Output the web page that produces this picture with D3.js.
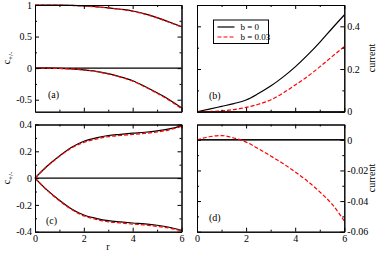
<!DOCTYPE html>
<html lang="en">
  <head>
    <meta charset="utf-8"/>
    <title>c and current vs r</title>
    <script src="https://cdn.jsdelivr.net/npm/d3@7"></script>
    <style>
      body { margin: 0; background: #fff; }
      text { font-family: "Liberation Serif", "DejaVu Serif", serif; fill: #000; }
      .axis path { stroke: #000; }
      .axis line { stroke: #000; }
    </style>
  </head>
  <body>
    <div id="chart"></div>
    <script>
     // radial grid shared by all curves
     const r = [0, 0.5, 1, 1.5, 2, 2.5, 3, 3.5, 4, 4.5, 5, 5.5, 6];

     // panel (a): c+/- amplitudes
     const aUp0   = [1, 1, 0.998, 0.993, 0.985, 0.972, 0.955, 0.933, 0.905, 0.86, 0.8, 0.73, 0.658];
     const aUp3   = [1, 1, 0.998, 0.993, 0.984, 0.971, 0.953, 0.93, 0.9, 0.855, 0.795, 0.725, 0.652];
     const aLow0  = [0, -0.001, -0.004, -0.012, -0.027, -0.05, -0.088, -0.138, -0.2, -0.29, -0.39, -0.5, -0.628];
     const aLow3  = [0, -0.001, -0.005, -0.013, -0.029, -0.053, -0.092, -0.143, -0.206, -0.297, -0.398, -0.51, -0.642];

     // panel (b): current
     const bCur0  = [0, 0.012, 0.025, 0.038, 0.055, 0.085, 0.12, 0.162, 0.21, 0.265, 0.325, 0.39, 0.453];
     const bCur3  = [0, 0.001, 0.004, 0.01, 0.02, 0.035, 0.055, 0.087, 0.125, 0.165, 0.21, 0.258, 0.305];

     // panel (c): c+/- phases
     const cUp0   = [0, 0.09, 0.165, 0.23, 0.275, 0.3, 0.318, 0.327, 0.335, 0.342, 0.352, 0.367, 0.39];
     const cUp3   = [0, 0.088, 0.162, 0.225, 0.267, 0.291, 0.309, 0.318, 0.326, 0.334, 0.344, 0.36, 0.387];
     const cLow0  = [0, -0.09, -0.165, -0.23, -0.275, -0.3, -0.318, -0.327, -0.335, -0.342, -0.352, -0.367, -0.39];
     const cLow3  = [0, -0.092, -0.169, -0.235, -0.282, -0.308, -0.326, -0.335, -0.343, -0.35, -0.36, -0.373, -0.393];

     // panel (d): current
     const dCur0  = [0, 0, 0, 0, 0, 0, 0, 0, 0, 0, 0, 0, 0];
     const dCur3  = [0, 0.002, 0.0028, 0.0012, -0.0015, -0.0058, -0.0105, -0.0155, -0.021, -0.027, -0.034, -0.042, -0.053];

     const legendLabels = ["b = 0", "b = 0.03"];

     const W = 382, H = 253;
     const svg = d3.select("#chart").append("svg")
                   .attr("width", W).attr("height", H);

     const xL = [35, 181.5], xR = [197, 344.3];
     const yT = [111.7, 5], yB = [231.7, 124.5];

     const panels = [
         { id: "a", xr: xL, yr: yT, dom: [-0.69, 1], ticks: [-0.5, 0, 0.5, 1], minor: [-0.25, 0.25, 0.75],
           side: "left", xlabels: false, fmt: d => d, lab: [48, 98],
           series: [[aUp0, aUp3], [aLow0, aLow3]] },
         { id: "b", xr: xR, yr: yT, dom: [0, 0.5], ticks: [0, 0.2, 0.4], minor: [0.1, 0.3],
           side: "right", xlabels: false, fmt: d => d, lab: [209, 99],
           series: [[bCur0, bCur3]] },
         { id: "c", xr: xL, yr: yB, dom: [-0.4, 0.4], ticks: [-0.4, -0.2, 0, 0.2, 0.4], minor: [-0.3, -0.1, 0.1, 0.3],
           side: "left", xlabels: true, fmt: d => d, lab: [46, 224],
           series: [[cUp0, cUp3], [cLow0, cLow3]] },
         { id: "d", xr: xR, yr: yB, dom: [-0.06, 0.01], ticks: [-0.06, -0.04, -0.02, 0], minor: [-0.05, -0.03, -0.01],
           side: "right", xlabels: true, fmt: d => d, lab: [209, 221],
           series: [[dCur0, dCur3]] }
     ];

     panels.forEach(p => {
         const x = d3.scaleLinear().domain([0, 6]).range(p.xr);
         const y = d3.scaleLinear().domain(p.dom).range(p.yr);
         const g = svg.append("g");

         // zero line
         g.append("line")
          .attr("x1", p.xr[0]).attr("x2", p.xr[1])
          .attr("y1", y(0)).attr("y2", y(0))
          .attr("stroke", "#000").attr("stroke-width", 1.1);

         const line = d3.line()
                        .x((d, i) => x(r[i]))
                        .y(d => y(d))
                        .curve(d3.curveMonotoneX);

         p.series.forEach(pair => {
             g.append("path").datum(pair[0])
              .attr("fill", "none").attr("stroke", "#000").attr("stroke-width", 1.2)
              .attr("d", line);
             g.append("path").datum(pair[1])
              .attr("fill", "none").attr("stroke", "#ff0000").attr("stroke-width", 1.2)
              .attr("stroke-dasharray", "4,2")
              .attr("d", line);
         });

         // ticks, all pointing inward, mirrored on all sides
         const mk = (axis, pos, vals, size, labels) => {
             const a = axis(pos === "x" ? x : y).tickValues(vals).tickSizeInner(size).tickSizeOuter(0)
                                         .tickPadding(3);
             if (!labels) a.tickFormat("");
             else a.tickFormat(p.fmt);
             return a;
         };
         g.append("g").attr("class", "axis").attr("transform", `translate(0,${p.yr[0]})`)
          .call(mk(d3.axisBottom, "x", [0, 2, 4, 6], -4, p.xlabels));
         g.append("g").attr("class", "axis").attr("transform", `translate(0,${p.yr[0]})`)
          .call(mk(d3.axisBottom, "x", [1, 3, 5], -2, false));
         g.append("g").attr("class", "axis").attr("transform", `translate(0,${p.yr[1]})`)
          .call(mk(d3.axisTop, "x", [0, 2, 4, 6], -4, false));
         g.append("g").attr("class", "axis").attr("transform", `translate(0,${p.yr[1]})`)
          .call(mk(d3.axisTop, "x", [1, 3, 5], -2, false));

         const labLeft = p.side === "left";
         g.append("g").attr("class", "axis").attr("transform", `translate(${p.xr[0]},0)`)
          .call(mk(d3.axisLeft, "y", p.ticks, -4, labLeft));
         g.append("g").attr("class", "axis").attr("transform", `translate(${p.xr[0]},0)`)
          .call(mk(d3.axisLeft, "y", p.minor, -2, false));
         g.append("g").attr("class", "axis").attr("transform", `translate(${p.xr[1]},0)`)
          .call(mk(d3.axisRight, "y", p.ticks, -4, !labLeft));
         g.append("g").attr("class", "axis").attr("transform", `translate(${p.xr[1]},0)`)
          .call(mk(d3.axisRight, "y", p.minor, -2, false));

         g.selectAll(".axis text").style("font-size", "10px")
          .style("font-family", "'Liberation Serif', serif");
         g.selectAll(".axis path").attr("stroke-width", 1);

         g.append("text").attr("x", p.lab[0]).attr("y", p.lab[1])
          .style("font-size", "10px").text(`(${p.id})`);
     });

     // y-axis titles
     [[10, 58], [10, 178]].forEach(([tx, ty]) => {
         const t = svg.append("text")
                      .attr("transform", `translate(${tx},${ty}) rotate(-90)`)
                      .attr("text-anchor", "middle")
                      .style("font-size", "10px");
         t.append("tspan").text("c");
         t.append("tspan").attr("dy", 3).style("font-size", "7px").text("+/-");
     });
     [58, 178].forEach(ty => {
         svg.append("text")
            .attr("transform", `translate(375,${ty}) rotate(-90)`)
            .attr("text-anchor", "middle")
            .style("font-size", "10px")
            .text("current");
     });
     svg.append("text").attr("x", 108).attr("y", 250)
        .attr("text-anchor", "middle").style("font-size", "10px").text("r");

     // legend
     const lg = svg.append("g").attr("transform", "translate(213.5,20)");
     lg.append("rect").attr("width", 55).attr("height", 23.5)
       .attr("fill", "#fff").attr("stroke", "#000").attr("stroke-width", 1);
     legendLabels.forEach((lab, i) => {
         const yy = 7 + i * 10;
         lg.append("line").attr("x1", 4).attr("x2", 21).attr("y1", yy).attr("y2", yy)
           .attr("stroke", i ? "#ff0000" : "#000").attr("stroke-width", 1.2)
           .attr("stroke-dasharray", i ? "4,2" : null);
         lg.append("text").attr("x", 27).attr("y", yy + 3)
           .style("font-size", "9px").text(lab);
     });
    </script>
  </body>
</html>
